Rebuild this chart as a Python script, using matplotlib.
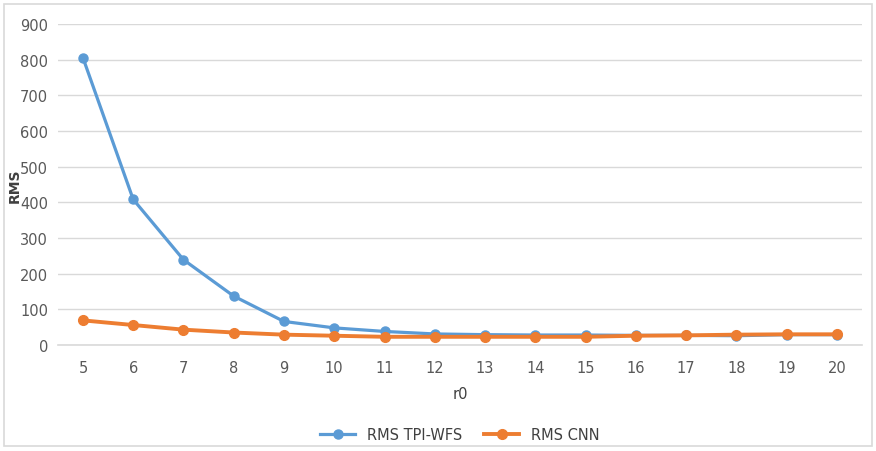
import matplotlib
matplotlib.use("Agg")
import matplotlib.pyplot as plt
from matplotlib.patches import Rectangle

r0 = [5, 6, 7, 8, 9, 10, 11, 12, 13, 14, 15, 16, 17, 18, 19, 20]
rms_tpi_wfs = [805, 408, 239, 137, 66, 48, 38, 31, 29, 28, 28, 27, 27, 26, 29, 29]
rms_cnn = [69, 56, 43, 35, 29, 26, 23, 23, 23, 23, 23, 26, 27, 29, 30, 30]
y_ticks = [0, 100, 200, 300, 400, 500, 600, 700, 800, 900]

plt.rcParams['font.family'] = ['Liberation Sans Narrow', 'DejaVu Sans']

fig = plt.figure(figsize=(8.76, 4.52), dpi=100)
fig.patches.append(Rectangle((0.005, 0.01), 0.99, 0.978, transform=fig.transFigure,
                             fill=False, edgecolor='#d9d9d9', linewidth=1.2))
ax = fig.add_axes([0.066, 0.2345, 0.918, 0.7105])

blue = '#5B9BD5'
orange = '#ED7D31'
ax.plot(r0, rms_tpi_wfs, color=blue, linewidth=2.3, marker='o', markersize=6.5,
        label='RMS TPI-WFS', zorder=3)
ax.plot(r0, rms_cnn, color=orange, linewidth=2.8, marker='o', markersize=7,
        label='RMS CNN', zorder=4)

ax.set_xlim(4.5, 20.5)
ax.set_ylim(0, 900)
ax.set_xticks(r0)
ax.set_yticks(y_ticks)
ax.grid(axis='y', color='#d9d9d9', linewidth=1)
ax.set_axisbelow(True)
for s in ['top', 'right', 'left']:
    ax.spines[s].set_visible(False)
ax.spines['bottom'].set_color('#d9d9d9')
ax.spines['bottom'].set_linewidth(1.2)
ax.tick_params(axis='both', length=0, labelsize=10.5, colors='#595959')
ax.tick_params(axis='x', pad=11)
ax.tick_params(axis='y', pad=7)

ax.set_xlabel('r0', fontsize=10.5, color='#404040', labelpad=8)
ax.set_ylabel('RMS', fontsize=10, color='#404040', fontweight='bold')
ax.yaxis.set_label_coords(-0.045, 0.5)

ax.legend(loc='upper center', bbox_to_anchor=(0.5, -0.215), ncol=2, frameon=False,
          fontsize=10.5, labelcolor='#404040', handlelength=2.4, columnspacing=1.5)

fig.savefig('out.png', dpi=100)
